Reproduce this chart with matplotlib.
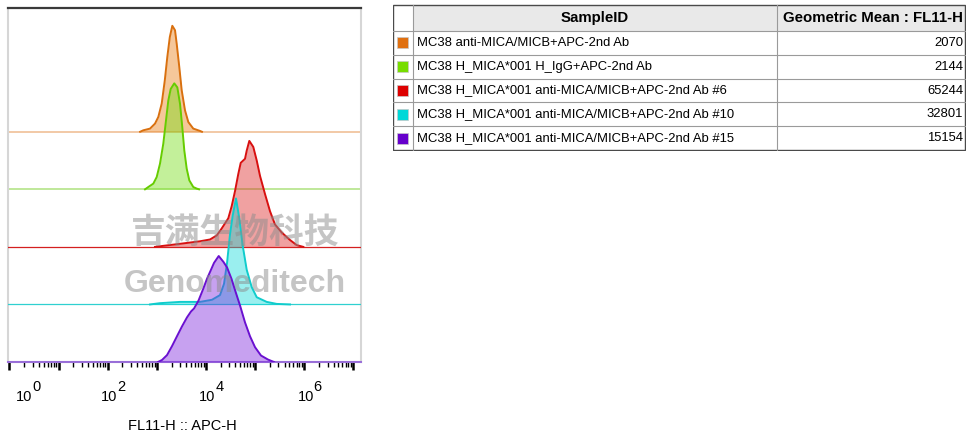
import matplotlib.pyplot as plt
import numpy as np
from matplotlib.patches import Rectangle
from matplotlib.transforms import blended_transform_factory

plt.rcParams["font.family"] = ["Liberation Sans", "DejaVu Sans"]

# Histogram outlines: log10(FL11-H) vs % of mode.
ORANGE_LOG = [2.66, 2.725, 2.862, 2.963, 3.031, 3.100, 3.163, 3.214, 3.265, 3.316,
              3.371, 3.405, 3.458, 3.507, 3.574, 3.642, 3.743, 3.880, 3.92]
ORANGE_PCT = [0, 1.4, 3.0, 7.7, 14.0, 26.6, 48.6, 70.6, 89.4, 100,
              95.8, 83.2, 61.1, 39.2, 20.3, 9.2, 3.0, 0.8, 0]

GREEN_LOG = [2.76, 2.827, 2.929, 2.998, 3.065, 3.132, 3.187, 3.234, 3.283, 3.356,
             3.418, 3.473, 3.519, 3.560, 3.609, 3.662, 3.743, 3.813, 3.86]
GREEN_PCT = [0, 2.2, 5.4, 11.6, 24.2, 43.0, 64.9, 83.7, 94.7, 100,
             96.2, 80.6, 58.6, 36.7, 19.5, 8.5, 2.2, 0.7, 0]

RED_LOG = [2.963, 3.065, 3.473, 3.880, 4.084, 4.220, 4.322, 4.456, 4.525, 4.593,
           4.660, 4.709, 4.796, 4.831, 4.884, 4.965, 5.035, 5.102, 5.204, 5.306,
           5.407, 5.544, 5.713, 5.849, 5.984]
RED_PCT = [0, 0.6, 2.9, 5.3, 7.0, 10.8, 17.4, 27.0, 38.4, 52.7,
           68.9, 79.3, 83.1, 90.8, 100, 94.3, 81.5, 67.0, 49.8, 33.6,
           21.2, 13.6, 6.5, 1.7, 0]

CYAN_LOG = [2.862, 3.065, 3.473, 3.880, 4.124, 4.287, 4.369, 4.430, 4.491, 4.546,
            4.613, 4.684, 4.749, 4.831, 4.933, 5.035, 5.238, 5.442, 5.713]
CYAN_PCT = [0, 1.2, 2.4, 2.4, 4.4, 8.8, 19.5, 39.0, 66.3, 83.9,
            100, 80.0, 55.6, 32.7, 16.3, 6.8, 2.4, 0.5, 0]

PURPLE_LOG = [3.024, 3.106, 3.208, 3.310, 3.411, 3.513, 3.615, 3.697, 3.758, 3.849,
              3.947, 4.022, 4.094, 4.165, 4.261, 4.358, 4.430, 4.521, 4.603, 4.695,
              4.796, 4.898, 5.000, 5.122, 5.265, 5.387]
PURPLE_PCT = [0, 1.9, 6.5, 15.0, 24.3, 33.6, 42.1, 47.7, 50.5, 57.9,
              69.2, 78.5, 86.0, 93.5, 100, 94.4, 89.3, 78.5, 66.4, 53.3,
              37.4, 24.3, 14.0, 6.1, 2.3, 0]

SAMPLE_IDS = [
    "MC38 anti-MICA/MICB+APC-2nd Ab",
    "MC38 H_MICA*001 H_IgG+APC-2nd Ab",
    "MC38 H_MICA*001 anti-MICA/MICB+APC-2nd Ab #6",
    "MC38 H_MICA*001 anti-MICA/MICB+APC-2nd Ab #10",
    "MC38 H_MICA*001 anti-MICA/MICB+APC-2nd Ab #15",
]
GEO_MEANS = [2070, 2144, 65244, 32801, 15154]
LABEL_DECADES = [0, 2, 4, 6]

EDGE = ["#d9700f", "#66cc00", "#d81010", "#10cccc", "#6a10d0"]
FILL = ["#e87a10", "#70dd10", "#dd2020", "#10dada", "#7a20dd"]
BASE = ["#f2c9a6", "#bfe89a", "#d42020", "#2fd0d0", "#8e5ad8"]
SWATCH = ["#e07010", "#77dd00", "#dd0000", "#00d8d8", "#6600cc"]

curves = [(ORANGE_LOG, ORANGE_PCT), (GREEN_LOG, GREEN_PCT), (RED_LOG, RED_PCT),
          (CYAN_LOG, CYAN_PCT), (PURPLE_LOG, PURPLE_PCT)]
STEP = 54.3  # vertical offset between stacked histograms

fig = plt.figure(figsize=(9.66, 4.36), dpi=100)
ax = fig.add_axes([8.3 / 966, 1 - 362 / 436, 352.4 / 966, 353.7 / 436])
ax.set_xscale("log")
ax.set_xlim(0.946, 1.42e7)
ax.set_ylim(0, 333.7)

n = len(curves)
for i, (lg, pct) in enumerate(curves):
    base = (n - 1 - i) * STEP
    x = 10 ** np.array(lg)
    y = base + np.array(pct)
    ax.axhline(base, color=BASE[i], lw=1.4 if i < 2 else 0.9, zorder=1 + i)
    ax.fill_between(x, base, y, color=FILL[i], alpha=0.42, lw=0, zorder=2 + i)
    ax.plot(x, y, color=EDGE[i], lw=1.4, zorder=3 + i)

for side in ("left", "right"):
    ax.spines[side].set_color("#d6d6d6")
    ax.spines[side].set_linewidth(1.5)
ax.spines["top"].set_color("#3a3a3a")
ax.spines["top"].set_linewidth(1.6)
ax.spines["bottom"].set_color("#9a70d8")
ax.spines["bottom"].set_linewidth(1.5)
ax.set_yticks([])
ax.tick_params(axis="x", which="major", length=6, width=1.8, color="black",
               labelbottom=False)
ax.tick_params(axis="x", which="minor", length=3.5, width=1.0, color="black")

trans = blended_transform_factory(ax.transData, ax.transAxes)
for e in LABEL_DECADES:
    shift = 15 if e == 0 else 1.5
    ax.annotate("10", (10.0 ** e, 0), xycoords=trans,
                xytext=(shift * 0.72, -35 * 0.72), textcoords="offset points",
                ha="center", va="center", fontsize=10.5)
    ax.annotate(str(e), (10.0 ** e, 0), xycoords=trans,
                xytext=((shift + 12) * 0.72, -25 * 0.72), textcoords="offset points",
                ha="center", va="center", fontsize=10.5)
ax.annotate("FL11-H :: APC-H", (0.5, 0), xycoords="axes fraction",
            xytext=(-2 * 0.72, -64 * 0.72), textcoords="offset points",
            ha="center", va="center", fontsize=10.5)

# watermark
fig.text(235 / 966, 1 - 232 / 436, "吉满生物科技", family=["Noto Sans CJK SC", "DejaVu Sans"],
         fontsize=25, fontweight="bold", color="#8c8c8c", alpha=0.5,
         ha="center", va="center", zorder=20)
fig.text(235 / 966, 1 - 284 / 436, "Genomeditech", fontsize=23, fontweight="bold",
         color="#8c8c8c", alpha=0.5, ha="center", va="center", zorder=20)

# statistics table
tb = fig.add_axes([393 / 966, 1 - 151 / 436, 573 / 966, 147 / 436])
tb.set_xlim(393, 966)
tb.set_ylim(151, 4)
tb.axis("off")
cols = [393, 413, 777, 965]
row_top = [5, 31]
row_h = 23.8
for k in range(len(SAMPLE_IDS)):
    row_top.append(31 + (k + 1) * row_h)

tb.add_patch(Rectangle((cols[1], row_top[0]), cols[3] - cols[1], row_top[1] - row_top[0],
                       facecolor="#e9e9e9", edgecolor="none"))
tb.text((cols[1] + cols[2]) / 2, (row_top[0] + row_top[1]) / 2, "SampleID",
        ha="center", va="center", fontsize=10.8, fontweight="bold")
tb.text(cols[3] - 2, (row_top[0] + row_top[1]) / 2, "Geometric Mean : FL11-H",
        ha="right", va="center", fontsize=10.8, fontweight="bold")
for k, (sid, gm) in enumerate(zip(SAMPLE_IDS, GEO_MEANS)):
    yc = (row_top[k + 1] + row_top[k + 2]) / 2
    tb.add_patch(Rectangle((397, yc - 5.5), 11, 11, facecolor=SWATCH[k],
                           edgecolor="#c8c8c8", lw=0.5))
    tb.text(cols[1] + 4, yc, sid, ha="left", va="center", fontsize=9.4)
    tb.text(cols[3] - 2, yc, str(gm), ha="right", va="center", fontsize=9.4)

for yy in row_top[1:-1]:
    tb.plot([cols[0], cols[3]], [yy, yy], color="#9a9a9a", lw=0.8)
for xx in cols[1:3]:
    tb.plot([xx, xx], [row_top[0], row_top[-1]], color="#9a9a9a", lw=0.8)
tb.add_patch(Rectangle((cols[0], row_top[0]), cols[3] - cols[0], row_top[-1] - row_top[0],
                       facecolor="none", edgecolor="#4a4a4a", lw=1.0))

fig.savefig("out.png", dpi=100)
